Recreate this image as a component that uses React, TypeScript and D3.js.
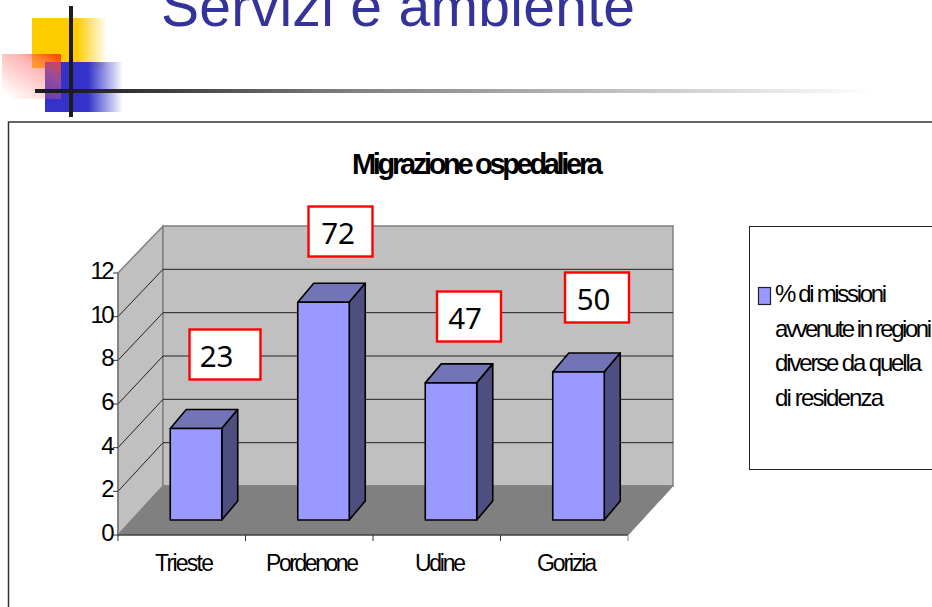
import React from "react";
import * as d3 from "d3";

const categories = ["Trieste", "Pordenone", "Udine", "Gorizia"];
const values = [4.19, 9.97, 6.28, 6.78];
const yTicks = [0, 2, 4, 6, 8, 10, 12];
const calloutTexts = ["23", "72", "47", "50"];
const legendLines = ["% di missioni", "avvenute in regioni", "diverse da quella", "di residenza"];
const title = "Migrazione ospedaliera";
const slideTitle = "Servizi e ambiente";

// layout
const X0 = 118, X1 = 628, Y0 = 535, Y12 = 273;
const BACK_DX = 45, BACK_Y0 = 486, BACK_Y12 = 226;
const BDX = 16, BDY = -19;
const BASE_DX = 14.5, BASE_DY = -15;
const calloutBoxes = [
  { x: 189.5, y: 329.5, w: 71, h: 50, tx: 216.5 },
  { x: 308.5, y: 206.5, w: 64, h: 50, tx: 338 },
  { x: 437, y: 291.5, w: 64, h: 50, tx: 465 },
  { x: 565, y: 272.5, w: 64, h: 50, tx: 593.5 },
];
const legendFits = [112, 157, 147, 109];
const catFits = [59, 93, 51, 60];
const catX = [155, 266, 415, 537];
const FONT = "'Liberation Sans', Arial, sans-serif";

const xTick = d3.scaleLinear().domain([0, categories.length]).range([X0, X1]);
const y = d3.scaleLinear().domain([0, 12]).range([Y0, Y12]);
const yBack = d3.scaleLinear().domain([0, 12]).range([BACK_Y0, BACK_Y12]);
const poly = (pts: number[][]) => d3.line()(pts as [number, number][]) + "Z";

export default function App() {
  const barW = 51.5;
  const bx0 = X0 + BACK_DX, bx1 = X1 + BACK_DX;
  return (
    <svg width={932} height={607} style={{ position: "absolute", left: 0, top: 0, background: "#fff" }}>
      <defs>
        <linearGradient id="yel" x1="0" x2="1" y1="0" y2="0">
          <stop offset="0.6" stopColor="#ffcc00" />
          <stop offset="1" stopColor="#ffcc00" stopOpacity="0" />
        </linearGradient>
        <linearGradient id="blu" x1="0" x2="1" y1="0" y2="0">
          <stop offset="0.55" stopColor="#3333cc" />
          <stop offset="1" stopColor="#3333cc" stopOpacity="0" />
        </linearGradient>
        <linearGradient id="pnk" x1="1" x2="0.15" y1="0" y2="1">
          <stop offset="0" stopColor="#ff3300" stopOpacity="0.95" />
          <stop offset="0.35" stopColor="#ff6666" stopOpacity="0.5" />
          <stop offset="1" stopColor="#ff6666" stopOpacity="0" />
        </linearGradient>
        <linearGradient id="rule" gradientUnits="userSpaceOnUse" x1="70" x2="875" y1="0" y2="0">
          <stop offset="0" stopColor="#1c1c1c" />
          <stop offset="0.35" stopColor="#808080" />
          <stop offset="1" stopColor="#ffffff" />
        </linearGradient>
      </defs>

      <text x={161} y={25.5} fontFamily={FONT} fontSize={57} fill="#333399" textLength={474} lengthAdjust="spacing">{slideTitle}</text>

      <rect x={32} y={18} width={75} height={50} fill="url(#yel)" />
      <rect x={45} y={62} width={78} height={50} fill="url(#blu)" />
      <rect x={2} y={54} width={59} height={45} fill="url(#pnk)" />
      <rect x={35} y={89} width={840} height={4} fill="url(#rule)" />
      <rect x={69} y={6} width={4} height={111} fill="#1c1c1c" />

      <path d="M8.5,607V122H932" fill="none" stroke="#333" strokeWidth={1.5} />

      <text x={352} y={173.5} fontFamily={FONT} fontWeight="bold" fontSize={29} fill="#000" textLength={251} lengthAdjust="spacing">{title}</text>

      {/* walls */}
      <path d={poly([[X0, Y0], [bx0, BACK_Y0], [bx0, BACK_Y12], [X0, Y12]])} fill="#c0c0c0" stroke="#808080" strokeWidth={1.5} />
      <path d={poly([[bx0, BACK_Y0], [bx1, BACK_Y0], [bx1, BACK_Y12], [bx0, BACK_Y12]])} fill="#c0c0c0" stroke="#808080" strokeWidth={1.5} />
      <path d={poly([[X0, Y0], [X1, Y0], [bx1, BACK_Y0], [bx0, BACK_Y0]])} fill="#808080" stroke="#808080" />
      {yTicks.filter(t => t > 0 && t < 12).map(t => (
        <path key={t} d={`M${X0},${y(t)}L${bx0},${yBack(t)}H${bx1}`} fill="none" stroke="#222" strokeWidth={1} />
      ))}

      {/* axes */}
      <path d={`M${X0},${Y12}V${Y0}`} fill="none" stroke="#777" strokeWidth={1.2} />
      <path d={`M${X0},${Y0}H${X1}`} fill="none" stroke="#222" strokeWidth={1.2} />
      {yTicks.map(t => (
        <g key={t}>
          <line x1={X0 - 5} x2={X0} y1={y(t)} y2={y(t)} stroke="#333" />
          <text x={114.5} y={y(t) + 6} textAnchor="end" fontFamily={FONT} fontSize={24} fill="#000" textLength={t >= 10 ? 24 : 14} lengthAdjust="spacing">{t}</text>
        </g>
      ))}
      {d3.range(categories.length + 1).map(i => (
        <line key={i} x1={xTick(i)} x2={xTick(i)} y1={Y0} y2={Y0 + 6} stroke={i === categories.length ? "#888" : "#333"} />
      ))}
      {categories.map((c, i) => (
        <text key={c} x={catX[i]} y={570.5} fontFamily={FONT} fontSize={23} fill="#000" textLength={catFits[i]} lengthAdjust="spacing">{c}</text>
      ))}

      {/* bars */}
      {categories.map((c, i) => {
        const l = xTick(i + 0.5) - barW / 2 + BASE_DX - 0.25;
        const r = l + barW;
        const b = Y0 + BASE_DY;
        const t = b - (Y0 - y(values[i]));
        return (
          <g key={c} stroke="#000" strokeWidth={1.6} strokeLinejoin="round">
            <path d={poly([[l, t], [r, t], [r + BDX, t + BDY], [l + BDX, t + BDY]])} fill="#7373b8" />
            <path d={poly([[r, t], [r + BDX, t + BDY], [r + BDX, b + BDY], [r, b]])} fill="#4e4e80" />
            <rect x={l} y={t} width={barW} height={b - t} fill="#9999ff" />
          </g>
        );
      })}

      {/* callouts */}
      {calloutTexts.map((s, i) => {
        const q = calloutBoxes[i];
        return (
          <g key={s}>
            <rect x={q.x} y={q.y} width={q.w} height={q.h} fill="#fff" stroke="#ff0000" strokeWidth={2.4} />
            <text x={q.tx} y={q.y + 37.5} textAnchor="middle" fontFamily="'Noto Sans', sans-serif" fontSize={29.5} fill="#000">{s}</text>
          </g>
        );
      })}

      {/* legend */}
      <rect x={749.5} y={226.5} width={200} height={243} fill="#fff" stroke="#222" strokeWidth={1} />
      <rect x={758.5} y={287.5} width={12} height={17} fill="#9999ff" stroke="#222" strokeWidth={1.2} />
      {legendLines.map((s, i) => (
        <text key={s} x={775} y={302 + i * 34.6} fontFamily={FONT} fontSize={24} fill="#000" textLength={legendFits[i]} lengthAdjust="spacing">{s}</text>
      ))}
    </svg>
  );
}
